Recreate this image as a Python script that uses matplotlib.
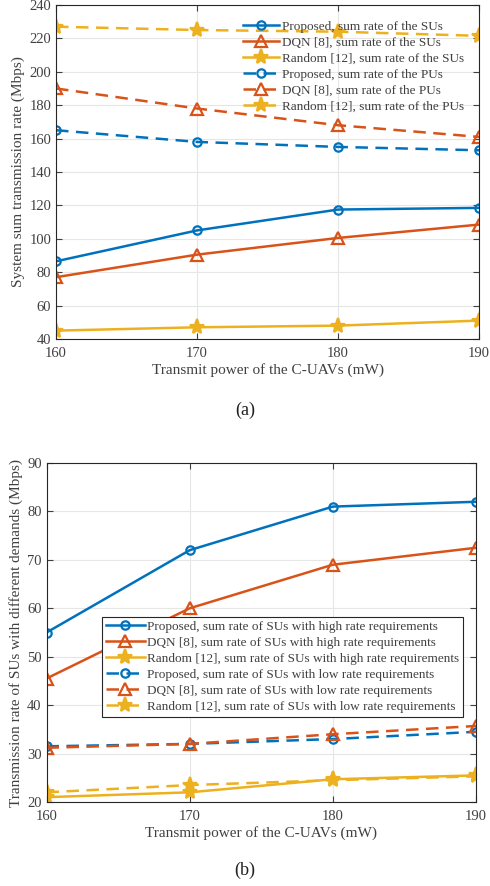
import numpy as np
import matplotlib
matplotlib.use("Agg")
import matplotlib.pyplot as plt

plt.rcParams['font.family'] = ['Liberation Serif', 'DejaVu Serif']

power = [160, 170, 180, 190]

# (a) system sum rates
prop_su = [86.5, 105, 117.5, 118.5]
dqn_su = [77, 90.5, 100.5, 108.5]
rand_su = [45, 47, 48, 51]
prop_pu = [165, 158, 155, 153]
dqn_pu = [190, 178, 168, 161]
rand_pu = [227, 225, 224, 221.5]

# (b) SUs with different demands
prop_high = [55, 72, 81, 82]
dqn_high = [45.5, 60, 69, 72.5]
rand_high = [21, 22, 24.7, 25.5]
prop_low = [31.5, 32, 33, 34.5]
dqn_low = [31.2, 32, 34, 35.7]
rand_low = [22, 23.5, 24.5, 25.3]

labels_a = ["Proposed, sum rate of the SUs", "DQN [8], sum rate of the SUs",
            "Random [12], sum rate of the SUs", "Proposed, sum rate of the PUs",
            "DQN [8], sum rate of the PUs", "Random [12], sum rate of the PUs"]
labels_b = ["Proposed, sum rate of SUs with high rate requirements",
            "DQN [8], sum rate of SUs with high rate requirements",
            "Random [12], sum rate of SUs with high rate requirements",
            "Proposed, sum rate of SUs with low rate requirements",
            "DQN [8], sum rate of SUs with low rate requirements",
            "Random [12], sum rate of SUs with low rate requirements"]

blue = "#0072BD"
red = "#D95319"
yellow = "#EDB120"
txt = "#404040"
# color, marker, size, filled, dashed
styles = [(blue, "o", 6, False, False), (red, "^", 8, False, False),
          (yellow, "*", 11, True, False), (blue, "o", 6, False, True),
          (red, "^", 8, False, True), (yellow, "*", 11, True, True)]

fig = plt.figure(figsize=(4.9, 8.86), dpi=100)
ax1 = fig.add_axes([0.1143, 0.6174, 0.8633, 0.377])
ax2 = fig.add_axes([0.0949, 0.0948, 0.8765, 0.3826])


def draw(ax, series, labels):
    for ys, (c, m, ms, filled, dashed), lab in zip(series, styles, labels):
        line, = ax.plot(power, ys, color=c, marker=m, markersize=ms,
                        linewidth=1.8, markeredgewidth=1.6, label=lab,
                        markerfacecolor=c if filled else "none")
        if dashed:
            line.set_dashes((5, 3))
    ax.set_xlim(160, 190)
    ax.set_xticks(power)
    ax.grid(True, color="#e6e6e6", linewidth=0.8)
    ax.tick_params(direction="in", top=True, right=True, colors=txt,
                   labelsize=10.5, length=4)
    ax.tick_params(axis="x", pad=6)
    for s in ax.spines.values():
        s.set_color("#262626")
        s.set_linewidth(0.8)
    ax.set_xlabel("Transmit power of the C-UAVs (mW)", color=txt, fontsize=11,
                  labelpad=2)


draw(ax1, [prop_su, dqn_su, rand_su, prop_pu, dqn_pu, rand_pu], labels_a)
ax1.set_ylim(40, 240)
ax1.set_yticks(np.arange(40, 241, 20))
ax1.set_ylabel("System sum transmission rate (Mbps)", color=txt, fontsize=11,
               labelpad=3)
leg1 = ax1.legend(loc="upper right", fontsize=9.5, frameon=False,
                  handlelength=2.8, labelspacing=0.28, borderpad=0,
                  borderaxespad=0, handletextpad=0.2,
                  bbox_to_anchor=(0.965, 0.953))
for t in leg1.get_texts():
    t.set_color(txt)

draw(ax2, [prop_high, dqn_high, rand_high, prop_low, dqn_low, rand_low], labels_b)
ax2.set_ylim(20, 90)
ax2.set_yticks(np.arange(20, 91, 10))
ax2.set_ylabel("Transmission rate of SUs with different demands (Mbps)",
               color=txt, fontsize=11, labelpad=3)
leg2 = ax2.legend(loc="upper left", fontsize=9.5, frameon=True, fancybox=False,
                  edgecolor="#262626", framealpha=1, handlelength=2.9,
                  labelspacing=0.28, borderpad=0.3, handletextpad=0.2,
                  borderaxespad=0, bbox_to_anchor=(0.13, 0.546))
leg2.get_frame().set_linewidth(0.8)
for t in leg2.get_texts():
    t.set_color(txt)

fig.text(0.5, 1 - 410 / 886, "(a)", ha="center", va="center", fontsize=13,
         color="#202020")
fig.text(0.5, 1 - 870 / 886, "(b)", ha="center", va="center", fontsize=13,
         color="#202020")

fig.savefig("out.png", dpi=100)
